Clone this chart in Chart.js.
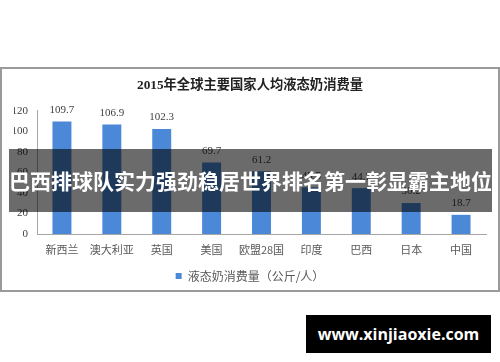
<!DOCTYPE html>
<html>
<head>
<meta charset="utf-8">
<script src="https://cdn.jsdelivr.net/npm/chart.js@4.4.1/dist/chart.umd.min.js"></script>
<style>
  html, body { margin: 0; padding: 0; background: #fff; }
  #wrap { position: relative; width: 500px; height: 362px; overflow: hidden; }
  #chart { position: absolute; left: 0; top: 0; }
  .banner {
    position: absolute; left: 9px; top: 149px; width: 483px; height: 63px;
    background: rgba(0, 0, 0, 0.58); color: #fff;
    font: bold 21px "Noto Sans CJK SC", sans-serif; line-height: 63px;
    text-align: center; white-space: nowrap;
  }
  .mark {
    position: absolute; left: 306px; top: 315px; width: 185px; height: 38px;
    background: #000; color: #fff;
    font: bold 16px "Open Sans", sans-serif; line-height: 38px;
    text-align: center; white-space: nowrap;
  }
</style>
</head>
<body>
<div id="wrap">
  <canvas id="chart" width="500" height="362"></canvas>
  <div class="banner">巴西排球队实力强劲稳居世界排名第一彰显霸主地位</div>
  <div class="mark">www.xinjiaoxie.com</div>
</div>
<script>
const countries = ['新西兰', '澳大利亚', '英国', '美国', '欧盟28国', '印度', '巴西', '日本', '中国'];
const milkPerCapita = [109.7, 106.9, 102.3, 69.7, 61.2, 45.5, 44.7, 30.2, 18.7];
const yTicks = [0, 20, 40, 60, 80, 100, 120];

const serif = '"Liberation Serif", "Times New Roman", "Noto Sans CJK SC", serif';
const sans = '"Noto Sans CJK SC", "Noto Sans", sans-serif';

// frame around the chart
const framePlugin = {
  id: 'frame',
  beforeDraw(chart) {
    const ctx = chart.ctx;
    ctx.save();
    ctx.fillStyle = '#fff';
    ctx.fillRect(0, 0, chart.width, chart.height);
    ctx.strokeStyle = '#9a9a9a';
    ctx.lineWidth = 2;
    ctx.strokeRect(1, 68, 498, 223);
    ctx.restore();
  }
};

// value labels above each bar
const valueLabels = {
  id: 'valueLabels',
  afterDatasetsDraw(chart) {
    const ctx = chart.ctx;
    const meta = chart.getDatasetMeta(0);
    ctx.save();
    ctx.font = '11px ' + serif;
    ctx.fillStyle = '#404040';
    ctx.textAlign = 'center';
    ctx.textBaseline = 'bottom';
    meta.data.forEach((bar, i) => {
      ctx.fillText(milkPerCapita[i].toFixed(1), bar.x, bar.y - 6);
    });
    ctx.restore();
  }
};

const ctx = document.getElementById('chart');

new Chart(ctx, {
  type: 'bar',
  data: {
    labels: countries,
    datasets: [{
      label: '液态奶消费量（公斤/人）',
      data: milkPerCapita,
      backgroundColor: '#4b88d8',
      barPercentage: 0.38,
      categoryPercentage: 1
    }]
  },
  options: {
    responsive: false,
    animation: false,
    layout: { padding: { left: 14, right: 14, top: 72, bottom: 70 } },
    plugins: {
      title: {
        display: true,
        text: '2015年全球主要国家人均液态奶消费量',
        color: '#222',
        font: { family: serif, size: 13.3, weight: 'bold' },
        padding: { top: 6, bottom: 17 }
      },
      legend: {
        position: 'bottom',
        labels: {
          color: '#595959',
          font: { family: sans, size: 12 },
          usePointStyle: true,
          pointStyle: 'rect',
          boxWidth: 6,
          boxHeight: 6,
          padding: 8
        }
      },
      tooltip: { enabled: false }
    },
    scales: {
      x: {
        grid: { display: false, drawTicks: false },
        border: { color: '#a6a6a6', width: 1 },
        ticks: { color: '#595959', font: { family: sans, size: 11 }, padding: 9, maxRotation: 0 },
        afterFit(scale) { scale.height = 28; }
      },
      y: {
        min: 0,
        max: 120,
        grid: { display: false, drawTicks: false },
        border: { color: '#a6a6a6', width: 1 },
        ticks: {
          stepSize: 20,
          padding: 9,
          color: '#404040',
          font: { family: serif, size: 11 },
          callback: (v) => yTicks.includes(v) ? v : ''
        },
        afterFit(scale) { scale.width = 23; }
      }
    }
  },
  plugins: [framePlugin, valueLabels]
});
</script>
</body>
</html>
